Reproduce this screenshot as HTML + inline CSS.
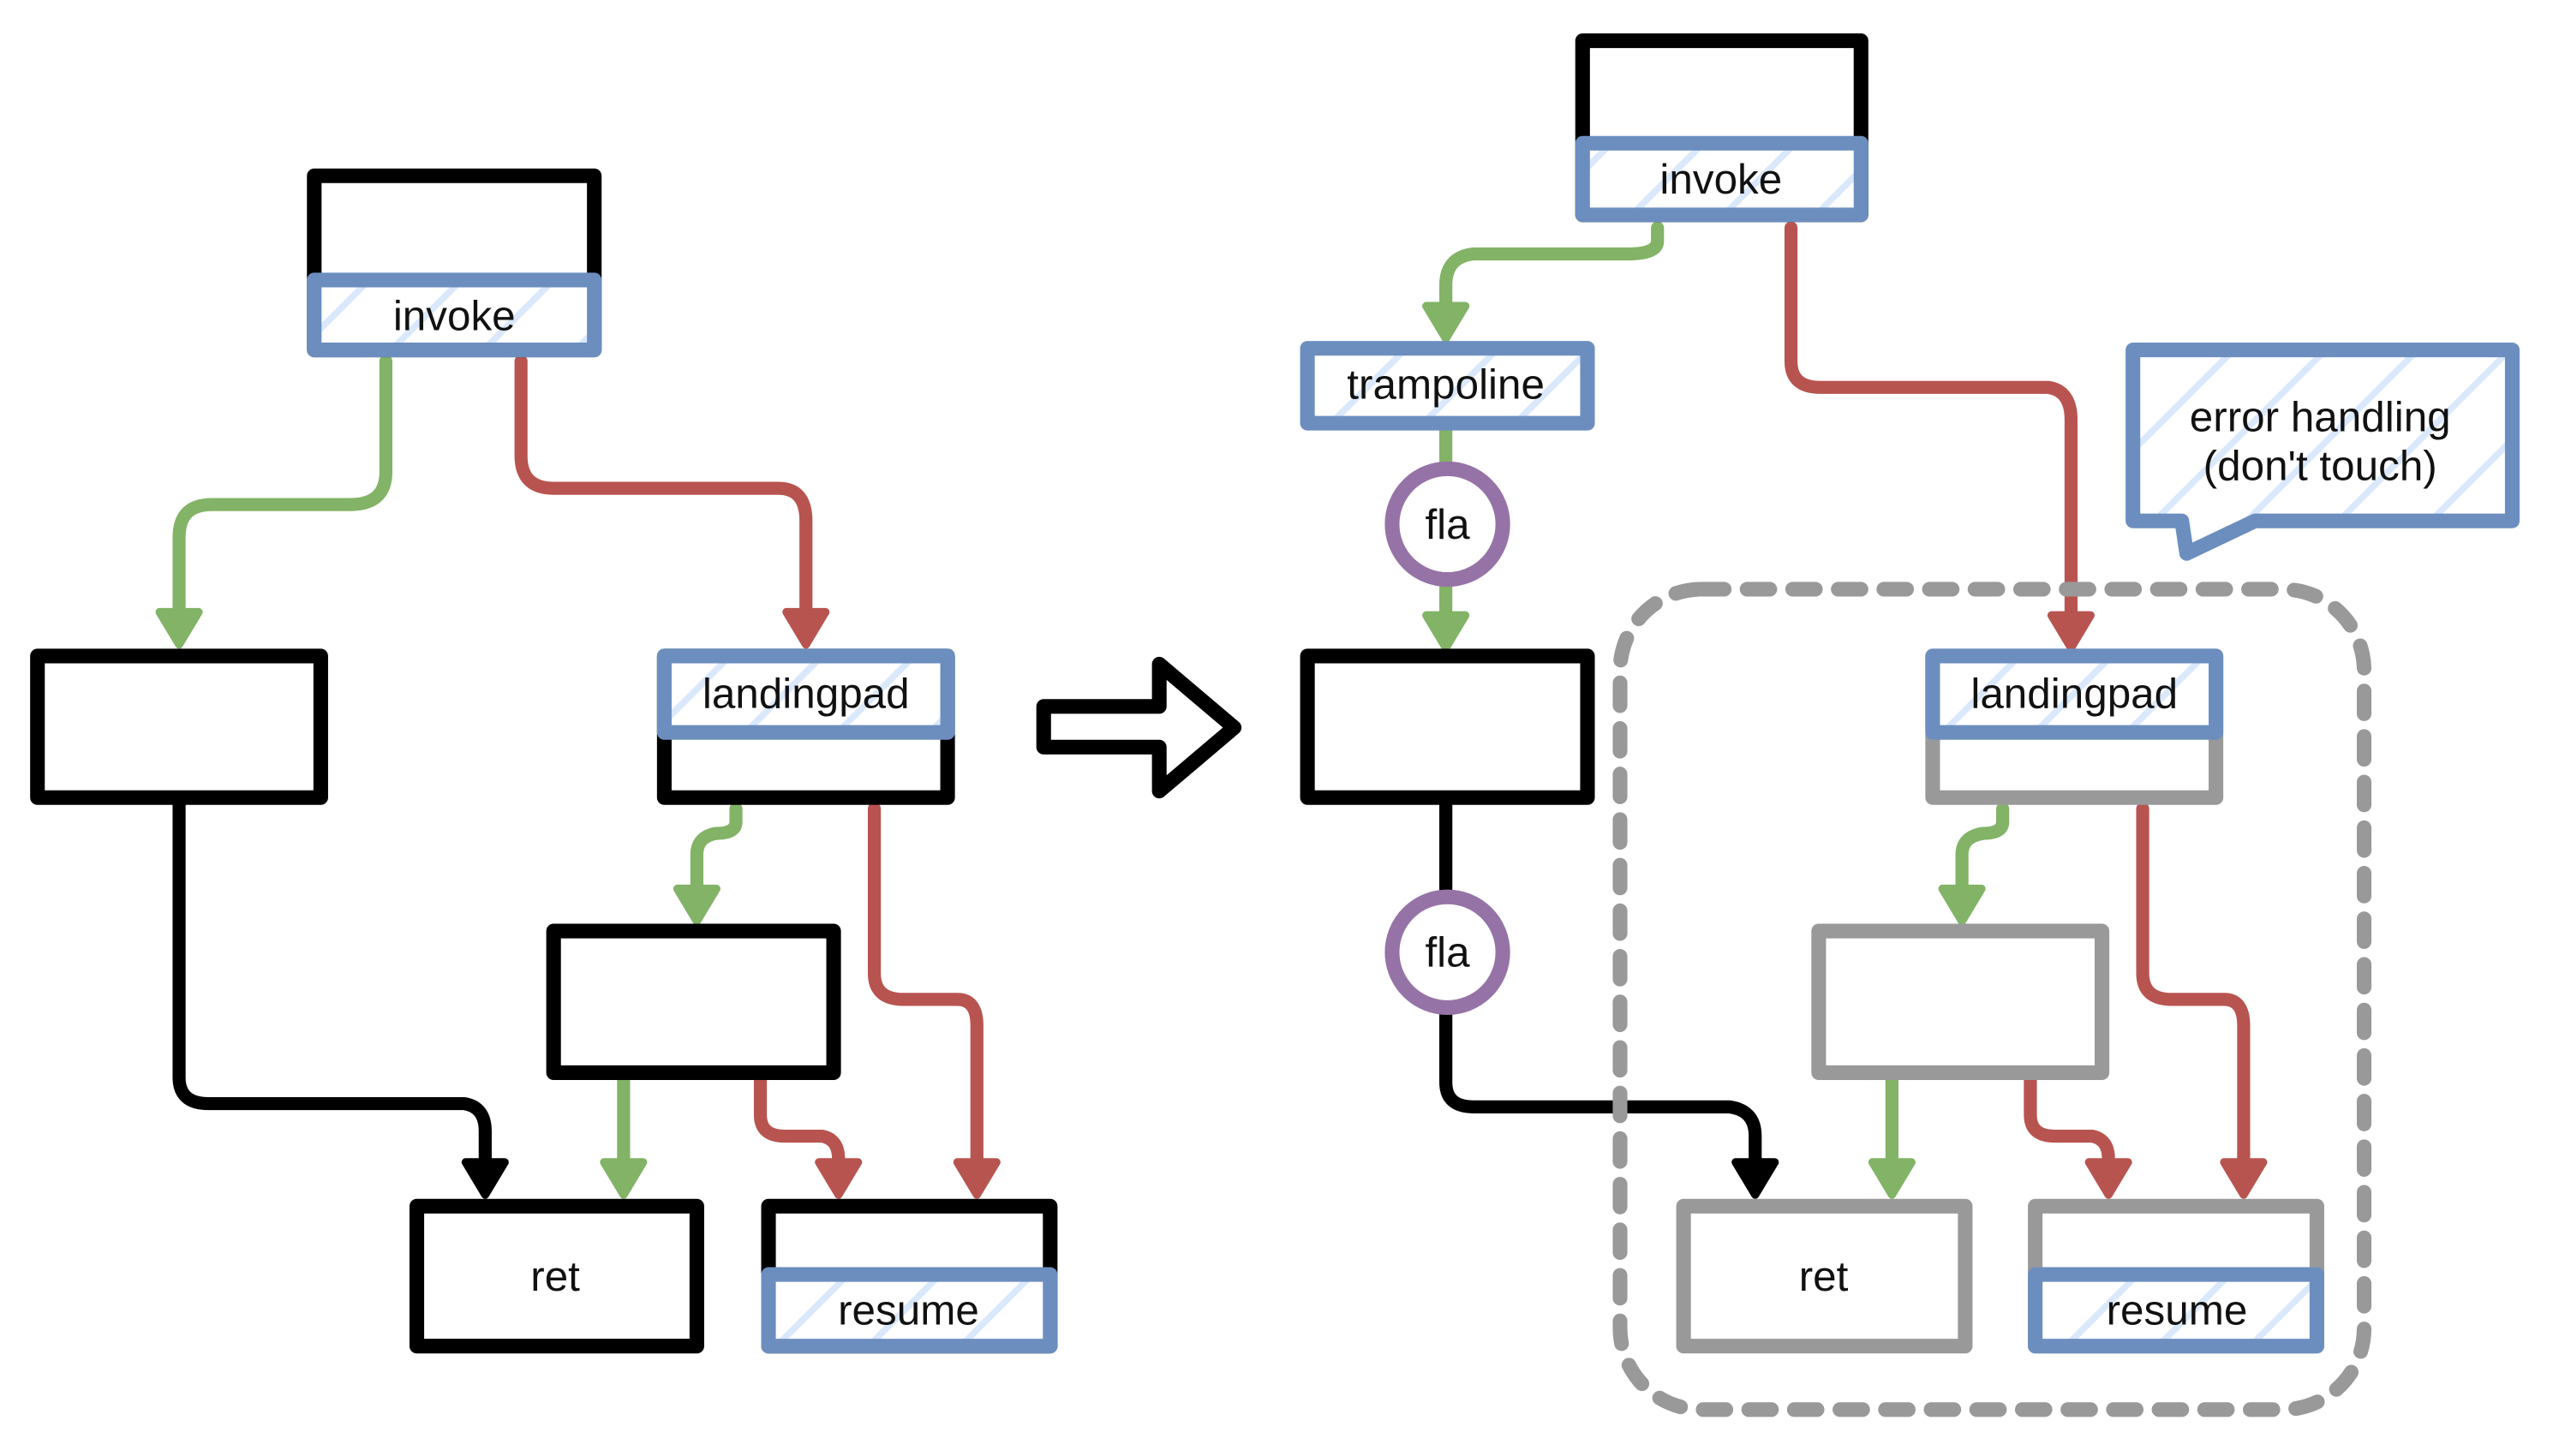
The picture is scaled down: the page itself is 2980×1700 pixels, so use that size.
<!DOCTYPE html>
<html><head><meta charset="utf-8"><style>
html,body{margin:0;padding:0;background:#fff;}
svg{display:block;}
text{font-family:"Liberation Sans",sans-serif;font-size:26px;fill:#111;text-anchor:middle;dominant-baseline:middle;}
</style></head><body>
<svg width="2980" height="1700" viewBox="0 0 1568 894.5" xmlns="http://www.w3.org/2000/svg">
<defs>
<pattern id="h" width="40" height="40" patternUnits="userSpaceOnUse" patternTransform="rotate(45)">
<rect x="0" y="0" width="40" height="40" fill="#fff"/><rect x="0" y="0" width="4" height="40" fill="#dae8fc"/>
</pattern>
</defs>
<g fill="none" stroke-width="8" stroke-linejoin="round" stroke-linecap="round">
<path d="M237,222 V290 Q237,310 215,310 H130 Q110,310 110,330 V385" stroke="#82b366"/>
<path d="M320,222 V280 Q320,300 340,300 H478 Q495,300 495,320 V385" stroke="#b85450"/>
<path d="M452,497 V505 Q452,512 440,512 Q428,514 428,525 V555" stroke="#82b366"/>
<path d="M537,497 V598 Q537,614 555,614 H588 Q600,614 600,630 V725" stroke="#b85450"/>
<path d="M110,490 V662 Q110,678 128,678 H285 Q298,680 298,695 V725" stroke="#000"/>
<path d="M383,662 V725" stroke="#82b366"/>
<path d="M467,662 V685 Q467,698 482,698 H505 Q515,700 515,712 V725" stroke="#b85450"/>
<path d="M1018,140 V148 Q1018,156 1000,156 H905 Q888,158 888,175 V198" stroke="#82b366"/>
<path d="M1100,140 V222 Q1100,238 1118,238 H1258 Q1272,240 1272,258 V388" stroke="#b85450"/>
<path d="M888,262 V290" stroke="#82b366"/>
<path d="M888,355 V388" stroke="#82b366"/>
<path d="M888,490 V552" stroke="#000"/>
<path d="M888,620 V665 Q888,680 905,680 H1062 Q1078,682 1078,698 V725" stroke="#000"/>
<path d="M1230,497 V505 Q1230,512 1218,512 Q1205,514 1205,525 V555" stroke="#82b366"/>
<path d="M1316,497 V598 Q1316,614 1334,614 H1366 Q1378,614 1378,630 V725" stroke="#b85450"/>
<path d="M1162,662 V725" stroke="#82b366"/>
<path d="M1247,662 V685 Q1247,698 1262,698 H1285 Q1295,700 1295,712 V725" stroke="#b85450"/>
</g>
<g stroke-linejoin="round" stroke-width="5">
<path d="M98,376 L122,376 L110,396 Z" fill="#82b366" stroke="#82b366"/>
<path d="M483,376 L507,376 L495,396 Z" fill="#b85450" stroke="#b85450"/>
<path d="M416,546 L440,546 L428,566 Z" fill="#82b366" stroke="#82b366"/>
<path d="M588,714 L612,714 L600,734 Z" fill="#b85450" stroke="#b85450"/>
<path d="M286,714 L310,714 L298,734 Z" fill="#000" stroke="#000"/>
<path d="M371,714 L395,714 L383,734 Z" fill="#82b366" stroke="#82b366"/>
<path d="M503,714 L527,714 L515,734 Z" fill="#b85450" stroke="#b85450"/>
<path d="M876,188 L900,188 L888,208 Z" fill="#82b366" stroke="#82b366"/>
<path d="M1260,378 L1284,378 L1272,398 Z" fill="#b85450" stroke="#b85450"/>
<path d="M876,378 L900,378 L888,398 Z" fill="#82b366" stroke="#82b366"/>
<path d="M1066,714 L1090,714 L1078,734 Z" fill="#000" stroke="#000"/>
<path d="M1193,546 L1217,546 L1205,566 Z" fill="#82b366" stroke="#82b366"/>
<path d="M1366,714 L1390,714 L1378,734 Z" fill="#b85450" stroke="#b85450"/>
<path d="M1150,714 L1174,714 L1162,734 Z" fill="#82b366" stroke="#82b366"/>
<path d="M1283,714 L1307,714 L1295,734 Z" fill="#b85450" stroke="#b85450"/>
</g>
<rect x="995" y="362" width="457" height="504" rx="50" fill="none" stroke="#999" stroke-width="9" stroke-dasharray="14,14" stroke-linecap="round"/>
<g stroke-width="9" stroke-linejoin="round">
<rect x="193" y="108" width="172" height="107" fill="#fff" stroke="#000"/>
<rect x="193" y="172" width="172" height="43" fill="url(#h)" stroke="#6c8ebf"/>
<rect x="23" y="403" width="174" height="87" fill="#fff" stroke="#000"/>
<rect x="408" y="403" width="174" height="87" fill="#fff" stroke="#000"/>
<rect x="408" y="403" width="174" height="47" fill="url(#h)" stroke="#6c8ebf"/>
<rect x="340" y="572" width="172" height="87" fill="#fff" stroke="#000"/>
<rect x="256" y="741" width="172" height="86" fill="#fff" stroke="#000"/>
<rect x="472" y="741" width="173" height="86" fill="#fff" stroke="#000"/>
<rect x="472" y="783" width="173" height="44" fill="url(#h)" stroke="#6c8ebf"/>
<path d="M641,434 H712 V408 L758,447 L712,486 V459 H641 Z" fill="#fff" stroke="#000"/>
<rect x="972" y="25" width="171" height="107" fill="#fff" stroke="#000"/>
<rect x="972" y="88" width="171" height="44" fill="url(#h)" stroke="#6c8ebf"/>
<rect x="803" y="214" width="172" height="46" fill="url(#h)" stroke="#6c8ebf"/>
<circle cx="889" cy="322" r="34" fill="#fff" stroke="#9673a6"/>
<rect x="803" y="403" width="172" height="87" fill="#fff" stroke="#000"/>
<circle cx="889" cy="585" r="34" fill="#fff" stroke="#9673a6"/>
<path d="M1310,215 H1543 V320 H1385 L1343,340 L1340,320 H1310 Z" fill="url(#h)" stroke="#6c8ebf"/>
<rect x="1187" y="403" width="174" height="87" fill="#fff" stroke="#999"/>
<rect x="1187" y="403" width="174" height="47" fill="url(#h)" stroke="#6c8ebf"/>
<rect x="1117" y="572" width="174" height="87" fill="#fff" stroke="#999"/>
<rect x="1034" y="741" width="173" height="86" fill="#fff" stroke="#999"/>
<rect x="1250" y="741" width="173" height="86" fill="#fff" stroke="#999"/>
<rect x="1250" y="783" width="173" height="44" fill="url(#h)" stroke="#6c8ebf"/>
</g>
<text x="279" y="196">invoke</text>
<text x="495" y="428">landingpad</text>
<text x="341" y="786">ret</text>
<text x="558" y="807">resume</text>
<text x="1057" y="112">invoke</text>
<text x="888" y="238">trampoline</text>
<text x="889" y="324">fla</text>
<text x="889" y="587">fla</text>
<text x="1425" y="258">error handling</text>
<text x="1425" y="288">(don't touch)</text>
<text x="1274" y="428">landingpad</text>
<text x="1120" y="786">ret</text>
<text x="1337" y="807">resume</text>
</svg>
</body></html>
